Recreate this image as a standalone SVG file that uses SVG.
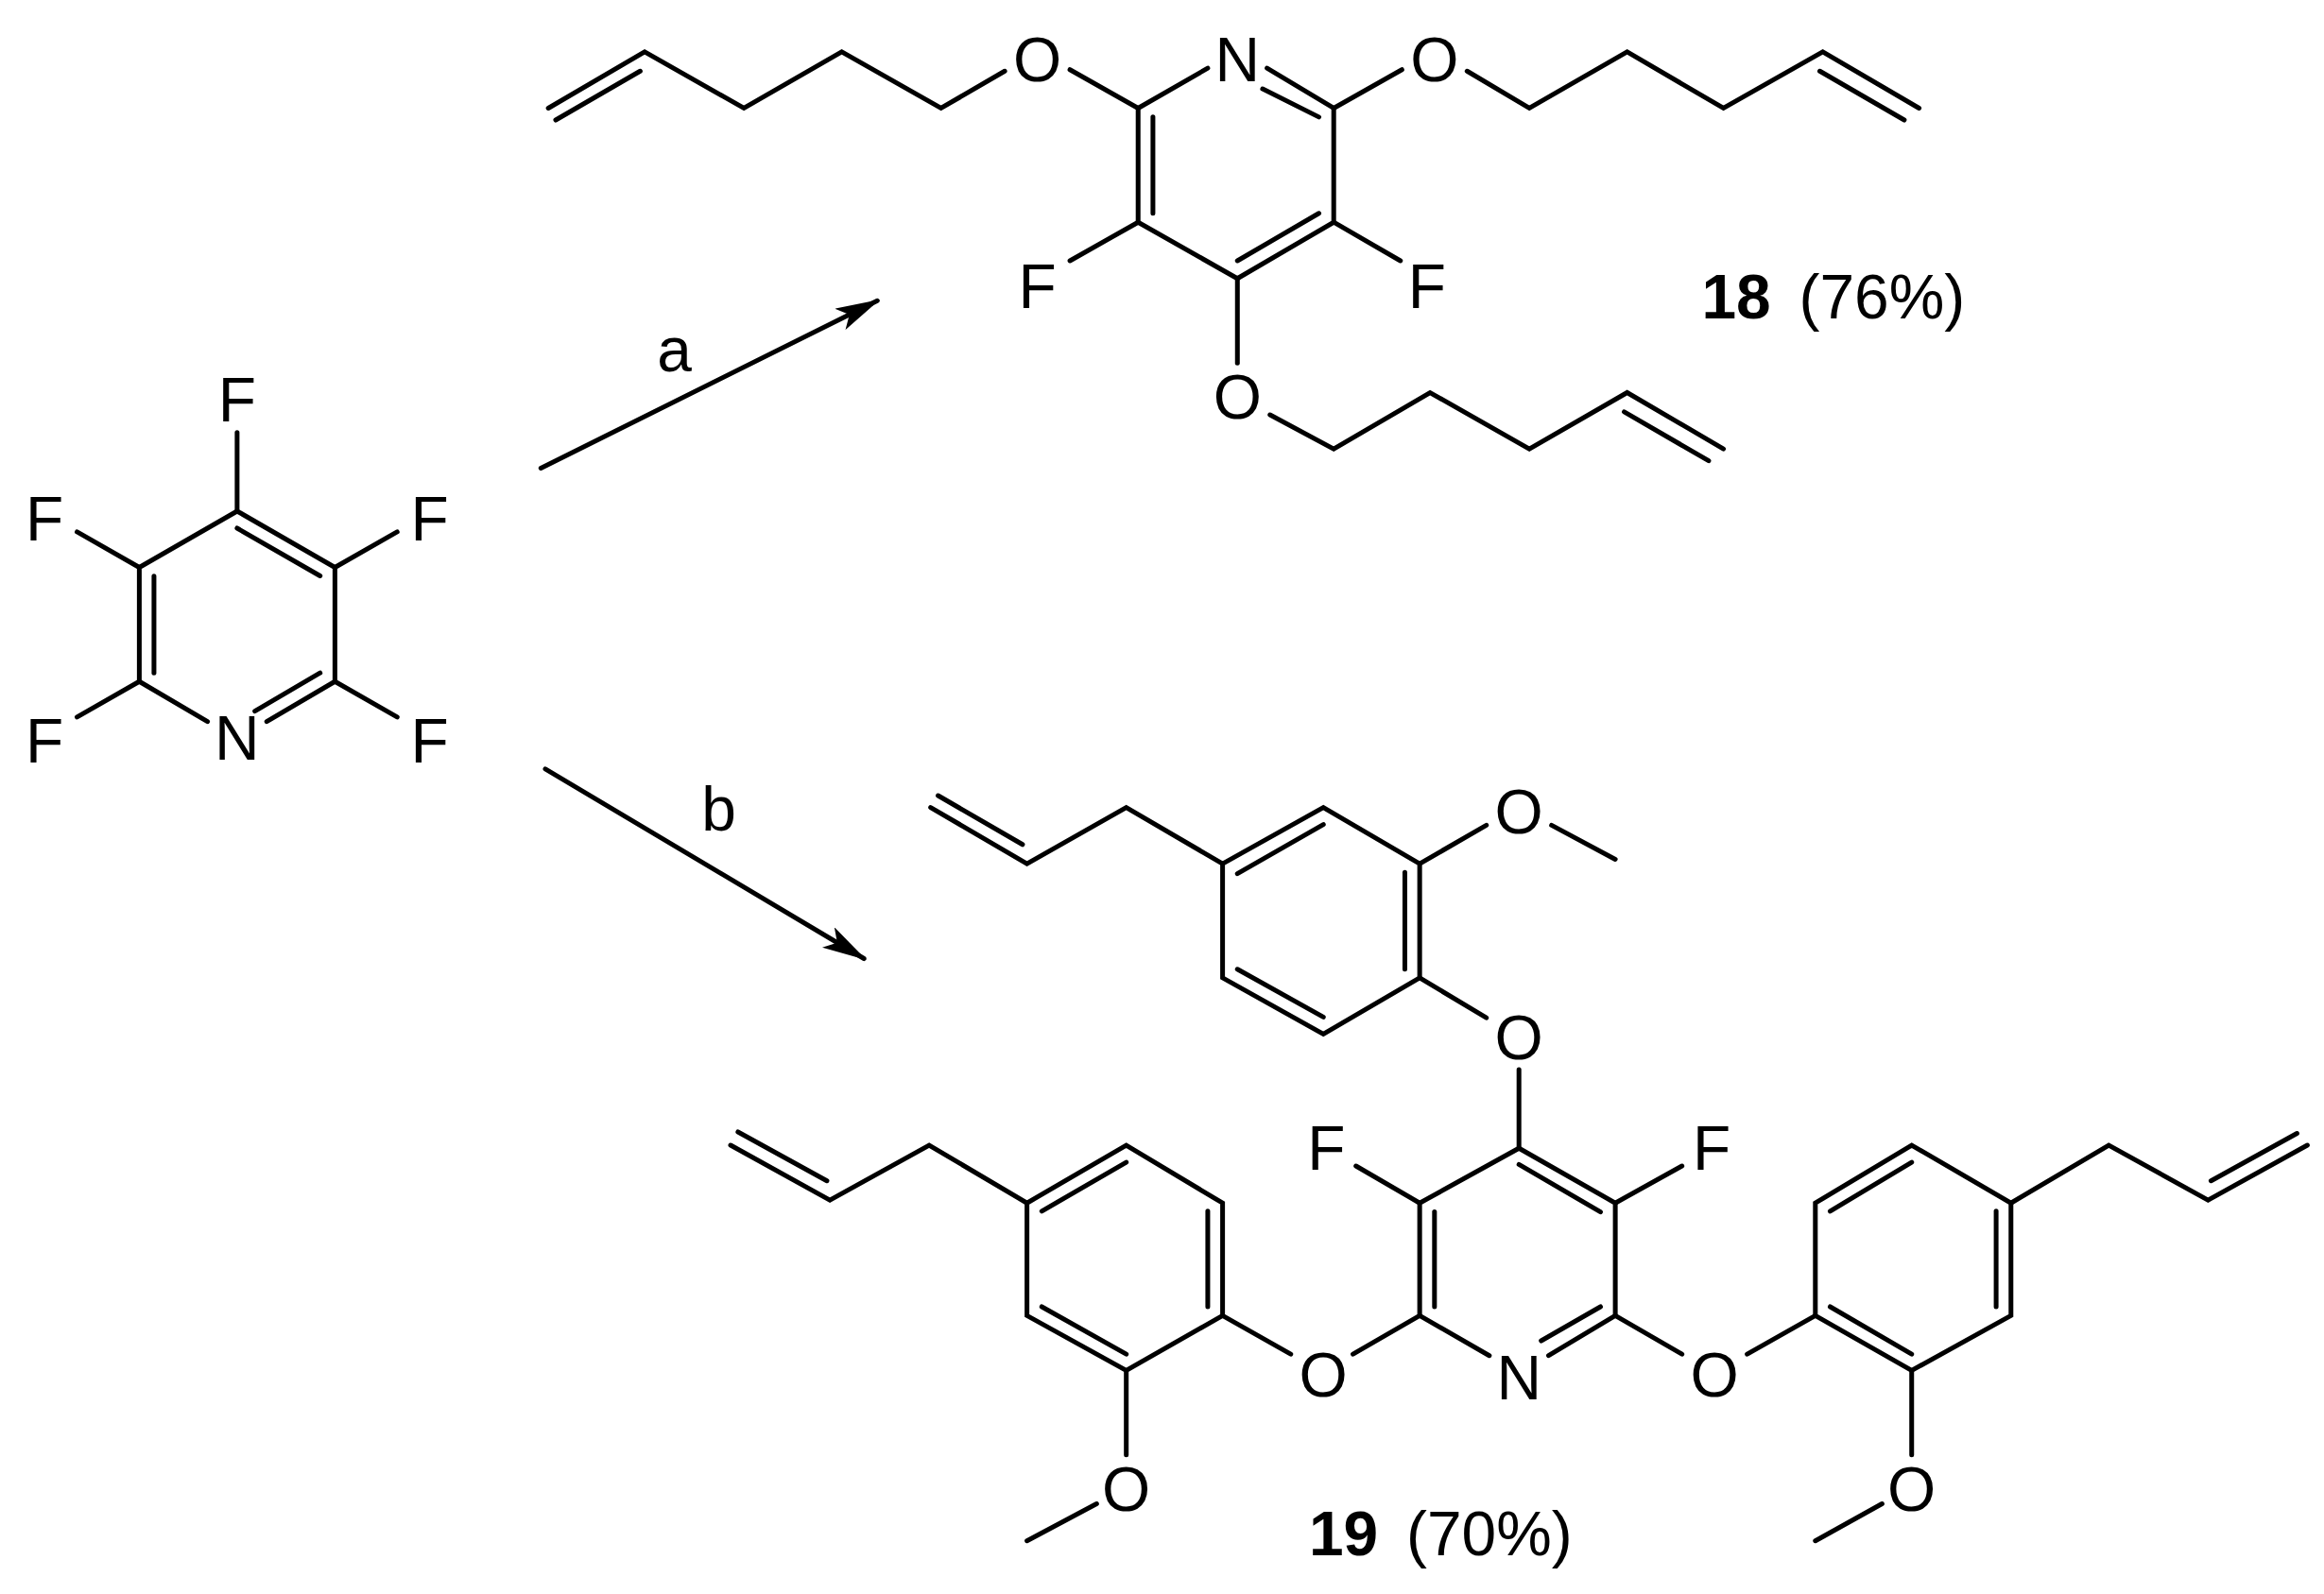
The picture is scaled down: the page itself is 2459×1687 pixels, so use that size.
<svg xmlns="http://www.w3.org/2000/svg" width="2459" height="1687" viewBox="0 0 2459 1687">
<style>
line,polyline{stroke:#000;stroke-width:3.2;fill:none;stroke-linecap:round}
text{font-family:"Liberation Sans",Arial,sans-serif;font-size:42px;fill:#000;text-anchor:middle;dominant-baseline:central}
.b{font-weight:bold}
</style>
<defs><marker id="ah" markerWidth="12" markerHeight="8" refX="11" refY="4" orient="auto" markerUnits="userSpaceOnUse"><path d="M0,0 L30,4 L0,8 L6,4 Z" transform="scale(1)"/></marker>
<marker id="ah2" viewBox="0 0 30 16" markerWidth="30" markerHeight="16" refX="28" refY="8" orient="auto" markerUnits="userSpaceOnUse"><path d="M0,0 L30,8 L0,16 L7,8 Z"/></marker></defs>
<rect width="2459" height="1687" fill="#fff"/>
<g transform="scale(1.568)">
<g id="pfp">
<polyline points="160,345 226,383 226,460"/><polyline points="160,345 94,383 94,460"/>
<line x1="160" y1="356.5" x2="216" y2="388.7"/><line x1="103.9" y1="388.8" x2="103.9" y2="454.2"/><line x1="216" y1="454.2" x2="172" y2="480"/>
<line x1="94" y1="460" x2="140" y2="487"/><line x1="226" y1="460" x2="180" y2="487"/>
<line x1="160" y1="345" x2="160" y2="292"/><line x1="94" y1="383" x2="52" y2="359"/><line x1="226" y1="383" x2="268" y2="359"/><line x1="94" y1="460" x2="52" y2="484"/><line x1="226" y1="460" x2="268" y2="484"/>
<text x="160" y="498">N</text><text x="160" y="270">F</text><text x="30" y="350">F</text><text x="290" y="350">F</text><text x="30" y="500">F</text><text x="290" y="500">F</text>
</g>
<g id="connectors">
<line x1="365" y1="316" x2="592" y2="203" marker-end="url(#ah2)"/>
<line x1="368" y1="519" x2="583" y2="647" marker-end="url(#ah2)"/>
<text x="455" y="236">a</text><text x="485" y="546">b</text>
</g>
<g id="c18">
<polyline points="768,73 768,150 835,188 900,150 900,73"/>
<line x1="768" y1="73" x2="815" y2="46"/><line x1="900" y1="73" x2="855" y2="46"/>
<line x1="852" y1="60" x2="890" y2="79"/><line x1="890" y1="144" x2="835" y2="176"/><line x1="778" y1="79" x2="778" y2="144"/>
<line x1="768" y1="73" x2="722" y2="47"/><line x1="900" y1="73" x2="946" y2="47"/><line x1="835" y1="188" x2="835" y2="245"/>
<line x1="768" y1="150" x2="722" y2="176"/><line x1="900" y1="150" x2="945" y2="176"/>
<polyline points="678,48 635,73 568,35 502,73 435,35 370,73"/><line x1="432" y1="48" x2="375" y2="81"/>
<polyline points="990,48 1032,73 1098,35 1163,73 1230,35 1295,73"/><line x1="1228" y1="48" x2="1285" y2="81"/>
<polyline points="857,280 900,303 965,265 1032,303 1098,265 1163,303"/><line x1="1096" y1="278" x2="1153" y2="311"/>
<text x="835" y="40">N</text><text x="700" y="40">O</text><text x="968" y="40">O</text><text x="835" y="268">O</text><text x="700" y="193">F</text><text x="963" y="193">F</text>
<text x="1195" y="200" text-anchor="end" class="b" style="text-anchor:end">18</text><text x="1270" y="200"> (76%)</text>
</g>
<g id="c19">
<polyline points="958,888 958,812 1025,775 1090,812 1090,888"/>
<line x1="1025" y1="786" x2="1080" y2="818"/><line x1="1080" y1="882" x2="1040" y2="905"/><line x1="968" y1="818" x2="968" y2="882"/>
<line x1="958" y1="888" x2="1005" y2="915"/><line x1="1090" y1="888" x2="1045" y2="915"/>
<line x1="958" y1="812" x2="915" y2="787"/><line x1="1090" y1="812" x2="1135" y2="787"/>
<line x1="1025" y1="775" x2="1025" y2="722"/><line x1="1003" y1="687" x2="958" y2="660"/>
<line x1="958" y1="888" x2="913" y2="914"/><line x1="825" y1="888" x2="871" y2="914"/>
<line x1="1090" y1="888" x2="1135" y2="914"/><line x1="1225" y1="888" x2="1179" y2="914"/>
<polyline points="958,660 958,583 893,545 825,583 825,660 893,698 958,660"/>
<line x1="893" y1="556.5" x2="835" y2="589.7"/><line x1="835" y1="654.2" x2="893" y2="686.5"/><line x1="948" y1="588.8" x2="948" y2="654.2"/>
<line x1="958" y1="583" x2="1003" y2="557"/><line x1="1047" y1="557" x2="1090" y2="580"/>
<polyline points="825,583 760,545 693,583 628,545"/><line x1="690" y1="570" x2="633" y2="537"/>
<polyline points="825,888 825,812 760,773 693,812 693,888 760,925 825,888"/>
<line x1="760" y1="784.5" x2="703" y2="817.5"/><line x1="815" y1="817.5" x2="815" y2="882"/><line x1="703" y1="882" x2="760" y2="914"/>
<line x1="760" y1="925" x2="760" y2="982"/><line x1="740" y1="1015" x2="693" y2="1040"/>
<polyline points="693,812 627,773 560,810 493,773"/><line x1="558" y1="797" x2="498" y2="764"/>
<polyline points="1225,888 1225,812 1290,773 1357,812 1357,888 1290,925 1225,888"/>
<line x1="1235" y1="817.5" x2="1290" y2="784.5"/><line x1="1347" y1="817.5" x2="1347" y2="882"/><line x1="1235" y1="882" x2="1290" y2="914"/>
<line x1="1290" y1="925" x2="1290" y2="982"/><line x1="1270" y1="1015" x2="1225" y2="1040"/>
<polyline points="1357,812 1423,773 1490,810 1557,773"/><line x1="1492" y1="797" x2="1550" y2="765"/>
<text x="1025" y="700">O</text><text x="1025" y="548">O</text><text x="895" y="775">F</text><text x="1155" y="775">F</text>
<text x="893" y="928">O</text><text x="1025" y="930">N</text><text x="1157" y="928">O</text><text x="760" y="1005">O</text><text x="1290" y="1005">O</text>
<text x="930" y="1035" class="b" style="text-anchor:end">19</text><text x="1005" y="1035">(70%)</text>
</g>
</g>
</svg>
